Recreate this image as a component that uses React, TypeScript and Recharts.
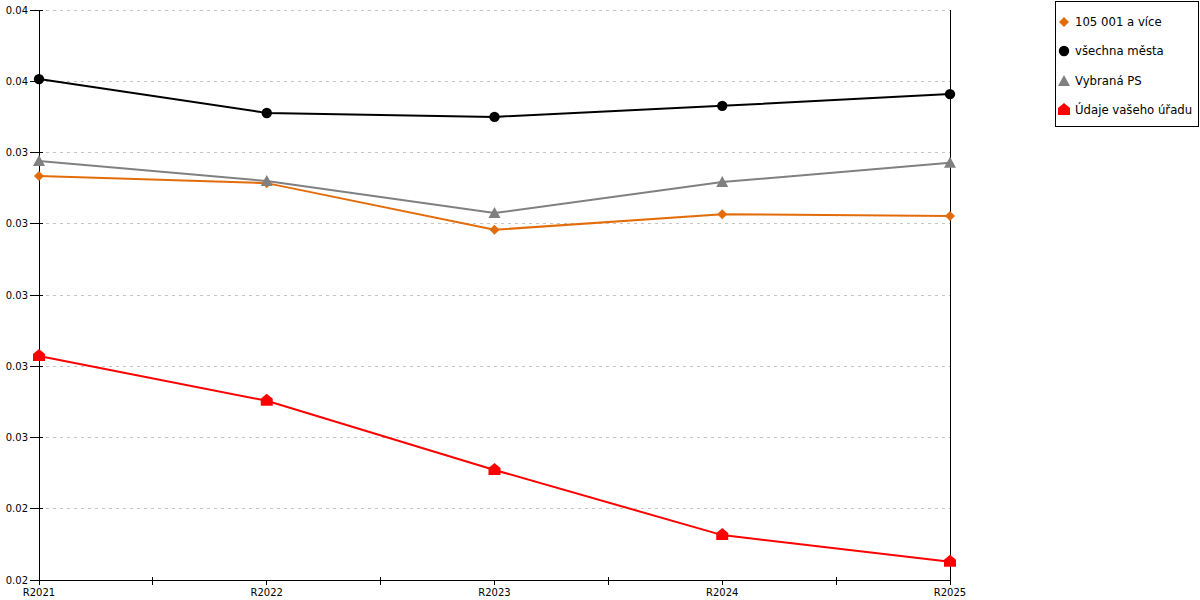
import { LineChart, XAxis, YAxis, Line, Legend, CartesianGrid, ReferenceLine } from 'recharts';

const CATEGORIES = ['R2021', 'R2022', 'R2023', 'R2024', 'R2025'];

const VELKA_MESTA = [0.03284, 0.03264, 0.03133, 0.03177, 0.03172];
const VSECHNA_MESTA = [0.03556, 0.03461, 0.0345, 0.03481, 0.03514];
const VYBRANA_PS = [0.03326, 0.0327, 0.0318, 0.03267, 0.03321];
const VAS_URAD = [0.02779, 0.02653, 0.02459, 0.02276, 0.02201];

const Y_TICKS = [0.0215, 0.0235, 0.0255, 0.0275, 0.0295, 0.0315, 0.0335, 0.0355, 0.0375];
const X_TICKS = [0, 0.5, 1, 1.5, 2, 2.5, 3, 3.5, 4];

const SERIES = [
  { key: 'velka', name: '105 001 a více', color: '#e36c0a', shape: 'diamond' },
  { key: 'vsechna', name: 'všechna města', color: '#000000', shape: 'circle' },
  { key: 'vybrana', name: 'Vybraná PS', color: '#808080', shape: 'triangle' },
  { key: 'urad', name: 'Údaje vašeho úřadu', color: '#ff0000', shape: 'house' },
];

const data = CATEGORIES.map((c, i) => ({
  idx: i,
  cat: c,
  velka: VELKA_MESTA[i],
  vsechna: VSECHNA_MESTA[i],
  vybrana: VYBRANA_PS[i],
  urad: VAS_URAD[i],
}));

function Marker({ shape, cx, cy, color }: { shape: string; cx: number; cy: number; color: string }) {
  if (shape === 'circle') return <circle cx={cx} cy={cy} r={5.2} fill={color} />;
  if (shape === 'diamond')
    return <path d={`M${cx},${cy - 5}L${cx + 5},${cy}L${cx},${cy + 5}L${cx - 5},${cy}Z`} fill={color} />;
  if (shape === 'triangle')
    return <path d={`M${cx},${cy - 6}L${cx + 6},${cy + 5}L${cx - 6},${cy + 5}Z`} fill={color} />;
  return (
    <path
      d={`M${cx},${cy - 7}L${cx + 6},${cy - 2}L${cx + 6},${cy + 5}L${cx - 6},${cy + 5}L${cx - 6},${cy - 2}Z`}
      fill={color}
    />
  );
}

function makeDot(shape: string, color: string) {
  return (props: any) => {
    const { cx, cy, index } = props;
    if (cx == null || cy == null) return <g key={index} />;
    return <Marker key={index} shape={shape} cx={cx} cy={cy} color={color} />;
  };
}

function YTick({ x, y, payload }: any) {
  return (
    <g>
      <line x1={x - 9} x2={x + 4} y1={y} y2={y} stroke="#000" shapeRendering="crispEdges" />
      <text x={x - 11} y={y} dy={3.5} textAnchor="end" fontSize={10} fill="#000">
        {Number(payload.value).toFixed(2)}
      </text>
    </g>
  );
}

function XTick({ x, y, payload }: any) {
  const v = payload.value as number;
  if (!Number.isInteger(v)) {
    return <line x1={x} x2={x} y1={y - 3} y2={y + 5} stroke="#000" shapeRendering="crispEdges" />;
  }
  return (
    <g>
      <line x1={x} x2={x} y1={y} y2={y + 5} stroke="#000" shapeRendering="crispEdges" />
      <text x={x} y={y + 16} textAnchor="middle" fontSize={10} fill="#000">
        {CATEGORIES[v]}
      </text>
    </g>
  );
}

function LegendBox() {
  return (
    <div
      style={{
        border: '1px solid #000',
        background: '#fff',
        boxSizing: 'border-box',
        width: 144,
        height: 126,
        paddingTop: 5,
      }}
    >
      {SERIES.map((s) => (
        <div key={s.key} style={{ display: 'flex', alignItems: 'center', height: 29.5 }}>
          <svg width={18} height={16} style={{ marginLeft: 1 }}>
            <Marker shape={s.shape} cx={7} cy={8} color={s.color} />
          </svg>
          <span style={{ fontSize: 11.7, color: '#000', whiteSpace: 'nowrap' }}>{s.name}</span>
        </div>
      ))}
    </div>
  );
}

export default function App() {
  return (
    <div style={{ position: 'absolute', left: 0, top: 0, fontFamily: 'DejaVu Sans', background: '#fff' }}>
      <LineChart width={1200} height={600} data={data} margin={{ top: 10, right: 250, bottom: 0, left: 0 }}>
        <CartesianGrid vertical={false} stroke="#c4c4c4" strokeDasharray="3 4" shapeRendering="crispEdges" />
        <XAxis
          dataKey="idx"
          type="number"
          domain={[0, 4]}
          ticks={X_TICKS}
          interval={0}
          height={20}
          tickSize={0}
          tickMargin={0}
          tickLine={false}
          tick={<XTick />}
          axisLine={{ stroke: '#000', shapeRendering: 'crispEdges' }}
        />
        <YAxis
          domain={[0.0215, 0.0375]}
          ticks={Y_TICKS}
          interval={0}
          width={39}
          tickSize={0}
          tickMargin={0}
          tickLine={false}
          tick={<YTick />}
          axisLine={{ stroke: '#000', shapeRendering: 'crispEdges' }}
        />
        <ReferenceLine x={4} stroke="#000" strokeOpacity={1} shapeRendering="crispEdges" />
        <Legend
          layout="vertical"
          align="center"
          verticalAlign="middle"
          content={<LegendBox />}
          wrapperStyle={{ left: 1055, top: 1, width: 144, height: 126 }}
        />
        {SERIES.map((s) => (
          <Line
            key={s.key}
            type="linear"
            dataKey={s.key}
            name={s.name}
            stroke={s.color}
            strokeWidth={2}
            dot={makeDot(s.shape, s.color)}
            activeDot={false}
            isAnimationActive={false}
          />
        ))}
      </LineChart>
    </div>
  );
}
